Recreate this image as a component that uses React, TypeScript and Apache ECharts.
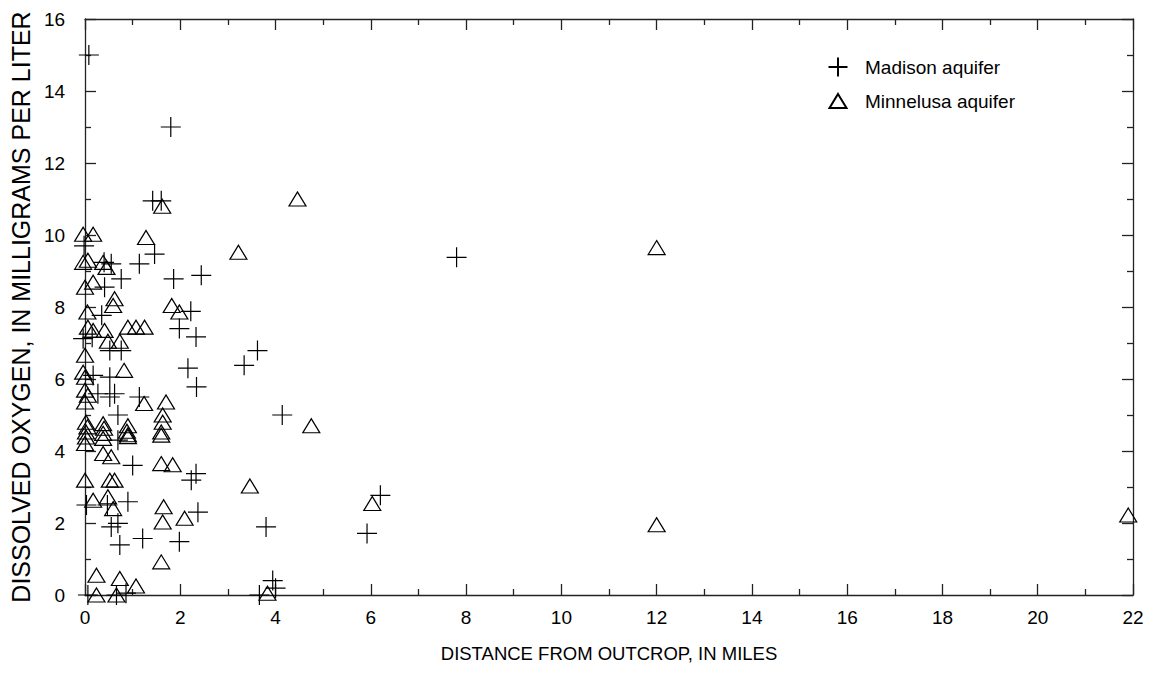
import React, { useEffect, useRef } from "react";
import * as echarts from "echarts";

const madisonName = "Madison aquifer";
const minnelusaName = "Minnelusa aquifer";

const madison: number[][] = [
  [0.08, 15], [1.8, 13], [1.42, 10.95], [1.6, 10.95], [1.46, 9.47], [1.14, 9.2],
  [2.44, 8.88], [1.86, 8.78], [0.76, 8.78], [-0.02, 9.7], [0.4, 9.24], [0.55, 9.2],
  [0.41, 8.55], [2.22, 7.88], [0.35, 7.77], [1.98, 7.4], [2.33, 7.17], [-0.04, 7.12],
  [0.15, 7.16], [0.52, 6.79], [0.76, 6.79], [3.62, 6.79], [3.34, 6.38], [2.16, 6.3],
  [0.17, 6.1], [0.52, 6.05], [2.34, 5.78], [0.27, 5.59], [0.62, 5.59], [0.52, 5.5],
  [1.14, 5.5], [0.69, 5.0], [4.14, 5.0], [0.69, 4.3], [1.0, 3.6], [2.33, 3.37],
  [2.23, 3.19], [0.03, 2.5], [0.47, 2.5], [0.9, 2.59], [2.37, 2.3], [0.55, 1.89],
  [0.69, 1.99], [3.8, 1.89], [1.21, 1.57], [1.98, 1.48], [0.73, 1.39], [6.2, 2.77],
  [5.92, 1.71], [7.8, 9.38], [0.06, 0], [0.66, 0], [0.86, 0.05], [3.66, 0],
  [3.94, 0.4], [4.0, 0.19],
];

const minnelusa: number[][] = [
  [-0.04, 10.02], [0.17, 10.02], [1.28, 9.93], [1.62, 10.8], [3.22, 9.52], [4.46, 11.0],
  [12.0, 9.65], [-0.04, 9.24], [0.06, 9.3], [0.38, 9.24], [0.45, 9.1], [0.0, 8.55],
  [0.17, 8.69], [0.62, 8.23], [0.59, 8.04], [1.82, 8.04], [1.98, 7.86], [0.05, 7.86],
  [0.06, 7.44], [0.17, 7.35], [0.41, 7.35], [0.9, 7.44], [1.07, 7.44], [1.25, 7.44],
  [0.48, 7.05], [0.73, 7.05], [0.0, 6.66], [0.82, 6.24], [-0.04, 6.19], [0.0, 6.05],
  [0.0, 5.69], [0.06, 5.55], [0.0, 5.36], [1.24, 5.32], [1.7, 5.36], [1.63, 5.0],
  [1.63, 4.8], [1.6, 4.53], [1.6, 4.44], [0.02, 4.8], [0.05, 4.67], [0.02, 4.53],
  [0.02, 4.39], [0.0, 4.21], [0.38, 4.76], [0.4, 4.63], [0.38, 4.49], [0.38, 4.35],
  [0.9, 4.7], [0.88, 4.55], [0.9, 4.45], [0.9, 4.4], [0.38, 3.93], [0.55, 3.84],
  [1.6, 3.65], [1.84, 3.62], [4.75, 4.7], [0.0, 3.19], [0.52, 3.19], [0.62, 3.19],
  [3.46, 3.03], [0.17, 2.63], [0.48, 2.73], [0.59, 2.4], [1.65, 2.45], [1.63, 2.03],
  [2.09, 2.13], [6.03, 2.54], [12.0, 1.95], [21.9, 2.22], [1.6, 0.92], [0.24, 0.55],
  [0.73, 0.46], [1.07, 0.25], [0.24, 0], [0.66, 0], [3.83, 0.05],
];

const xTitle = "DISTANCE FROM OUTCROP, IN MILES";
const yTitle = "DISSOLVED OXYGEN, IN MILLIGRAMS PER LITER";

const FONT = "'Liberation Sans', Arial, Helvetica, sans-serif";
const PLUS = "path://M10,0L10,20M0,10L20,10";
// legend icons: include invisible bound points so the icon keeps the marker size
const PLUS_ICON = "path://M0,0M20,20M10,0.5L10,19.5M0.5,10L19.5,10";
const TRI_ICON = "path://M0,0M20,20M10,3L18.5,17L1.5,17Z";

export default function App() {
  const ref = useRef<HTMLDivElement>(null);
  useEffect(() => {
    if (!ref.current) return;
    const chart = echarts.init(ref.current, null, { renderer: "svg" });
    const lineStyle = { color: "#222", width: 1.3 };
    const baseAxis = (extra: any) => ({
      type: "value",
      axisLine: { show: true, onZero: false, lineStyle },
      axisTick: { show: true, inside: true, length: 11, lineStyle },
      minorTick: { show: true, splitNumber: 2, length: 6, lineStyle },
      splitLine: { show: false },
      minorSplitLine: { show: false },
      ...extra,
    });
    chart.setOption({
      animation: false,
      textStyle: { fontFamily: FONT, color: "#000" },
      grid: { left: 82, right: 24, top: 19, bottom: 82, containLabel: false },
      legend: {
        orient: "vertical",
        left: 822,
        top: 51,
        padding: 5,
        itemWidth: 20,
        itemHeight: 20,
        itemGap: 12,
        symbolKeepAspect: true,
        textStyle: { fontFamily: FONT, fontSize: 19, color: "#000", padding: [0, 0, 0, 12] },
        data: [
          { name: madisonName, icon: PLUS_ICON },
          { name: minnelusaName, icon: TRI_ICON },
        ],
      },
      xAxis: [
        baseAxis({
          min: 0, max: 22, interval: 2, position: "bottom",
          axisLabel: { margin: 13, fontSize: 19, color: "#000", fontFamily: FONT },
          name: xTitle, nameLocation: "middle", nameGap: 49,
          nameTextStyle: { fontSize: 18.5, color: "#000", fontFamily: FONT },
        }),
        baseAxis({
          min: 0, max: 22, interval: 2, position: "top",
          axisLabel: { show: false },
        }),
      ],
      yAxis: [
        baseAxis({
          min: 0, max: 16, interval: 2, position: "left",
          axisLabel: { margin: 20, fontSize: 19, color: "#000", fontFamily: FONT },
          name: yTitle, nameLocation: "middle", nameGap: 46,
          nameTextStyle: { fontSize: 25, color: "#000", fontFamily: FONT },
        }),
        baseAxis({
          min: 0, max: 16, interval: 2, position: "right",
          axisLabel: { show: false },
        }),
      ],
      series: [
        {
          name: madisonName,
          type: "scatter",
          clip: false,
          symbol: PLUS,
          symbolSize: 20,
          itemStyle: { color: "rgba(0,0,0,0)", borderColor: "#000", borderWidth: 1.2, opacity: 1 },
          data: madison,
        },
        {
          name: minnelusaName,
          type: "scatter",
          clip: false,
          symbol: "triangle",
          symbolSize: [17, 14],
          itemStyle: { color: "rgba(0,0,0,0)", borderColor: "#000", borderWidth: 1.2, opacity: 1 },
          data: minnelusa,
        },
      ],
    });
    return () => chart.dispose();
  }, []);
  return <div ref={ref} style={{ width: 1157, height: 677, margin: -8 }} />;
}
